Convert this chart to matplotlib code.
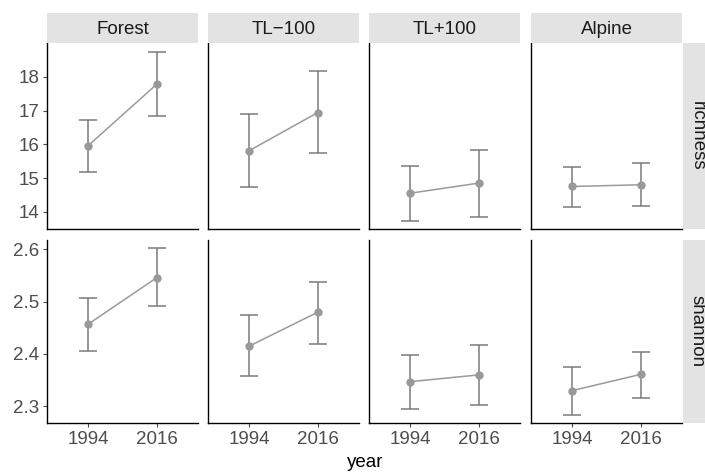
import numpy as np
import matplotlib
matplotlib.use("Agg")
import matplotlib.pyplot as plt

plt.rcParams['font.family'] = ['Liberation Sans', 'DejaVu Sans']

sites = ['Forest', 'TL\u2212100', 'TL+100', 'Alpine']
metrics = ['richness', 'shannon']
years = ['1994', '2016']

# mean, lower, upper per site (1994, 2016)
richness_mean = [[15.96, 17.78], [15.81, 16.94], [14.55, 14.85], [14.75, 14.80]]
richness_low = [[15.17, 16.84], [14.72, 15.73], [13.74, 13.85], [14.13, 14.17]]
richness_high = [[16.73, 18.74], [16.91, 18.16], [15.36, 15.84], [15.34, 15.44]]

shannon_mean = [[2.457, 2.546], [2.415, 2.480], [2.347, 2.360], [2.330, 2.361]]
shannon_low = [[2.406, 2.491], [2.358, 2.420], [2.295, 2.302], [2.284, 2.316]]
shannon_high = [[2.508, 2.602], [2.474, 2.537], [2.398, 2.417], [2.376, 2.404]]

data = {
    'richness': (richness_mean, richness_low, richness_high),
    'shannon': (shannon_mean, shannon_low, shannon_high),
}
yticks = {'richness': [14, 15, 16, 17, 18], 'shannon': [2.3, 2.4, 2.5, 2.6]}
ylims = {'richness': (13.49, 19.0), 'shannon': (2.268, 2.618)}

W, H = 705, 473
fig = plt.figure(figsize=(W / 100, H / 100), dpi=100)

col_left = [47, 208, 369, 531]
col_w = 151
row_top = [43, 240]
row_h = [186, 183]
strip_col = '#e3e3e3'
tick_col = '#4d4d4d'
fs = 13.5

for r, m in enumerate(metrics):
    mean, low, high = data[m]
    for c, s in enumerate(sites):
        ax = fig.add_axes([col_left[c] / W, 1 - (row_top[r] + row_h[r]) / H,
                           col_w / W, row_h[r] / H])
        x = np.arange(1, 3)
        y = np.array(mean[c])
        lo = np.array(low[c])
        hi = np.array(high[c])
        ax.plot(x, y, color='#9a9a9a', lw=1.1, zorder=2)
        ax.errorbar(x, y, yerr=[y - lo, hi - y], fmt='none', ecolor='#7a7a7a',
                    elinewidth=1.1, capsize=6.5, capthick=1.1, zorder=3)
        ax.scatter(x, y, s=36, color='#999999', zorder=4, linewidths=0)
        ax.set_xlim(0.4, 2.6)
        ax.set_ylim(*ylims[m])
        ax.set_xticks(x)
        ax.set_yticks(yticks[m])
        for sp in ['top', 'right']:
            ax.spines[sp].set_visible(False)
        for sp in ['left', 'bottom']:
            ax.spines[sp].set_linewidth(1.0)
            ax.spines[sp].set_color('black')
        ax.tick_params(colors=tick_col, labelsize=fs, length=3, width=0.8,
                       pad=2.5)
        if r == 1:
            ax.set_xticklabels(years)
        else:
            ax.tick_params(axis='x', length=0, labelbottom=False)
        if c == 0:
            if m == 'shannon':
                ax.set_yticklabels(['%.1f' % v for v in yticks[m]])
        else:
            ax.tick_params(axis='y', length=0, labelleft=False)

        if r == 0:
            sax = fig.add_axes([col_left[c] / W, 1 - 43 / H, col_w / W, 30 / H])
            sax.set_facecolor(strip_col)
            sax.set_xticks([])
            sax.set_yticks([])
            for sp in sax.spines.values():
                sp.set_visible(False)
            sax.text(0.5, 0.45, s, ha='center', va='center', fontsize=fs,
                     color='#1a1a1a')
        if c == 3:
            sax = fig.add_axes([683 / W, 1 - (row_top[r] + row_h[r]) / H,
                                26 / W, row_h[r] / H])
            sax.set_facecolor(strip_col)
            sax.set_xticks([])
            sax.set_yticks([])
            for sp in sax.spines.values():
                sp.set_visible(False)
            sax.text(0.55, 0.5, m, ha='center', va='center', rotation=-90,
                     fontsize=fs, color='#1a1a1a')

fig.text(365 / W, 1 - 462 / H, 'year', ha='center', va='center', fontsize=fs,
         color='black')

fig.savefig('out.png', dpi=100)
